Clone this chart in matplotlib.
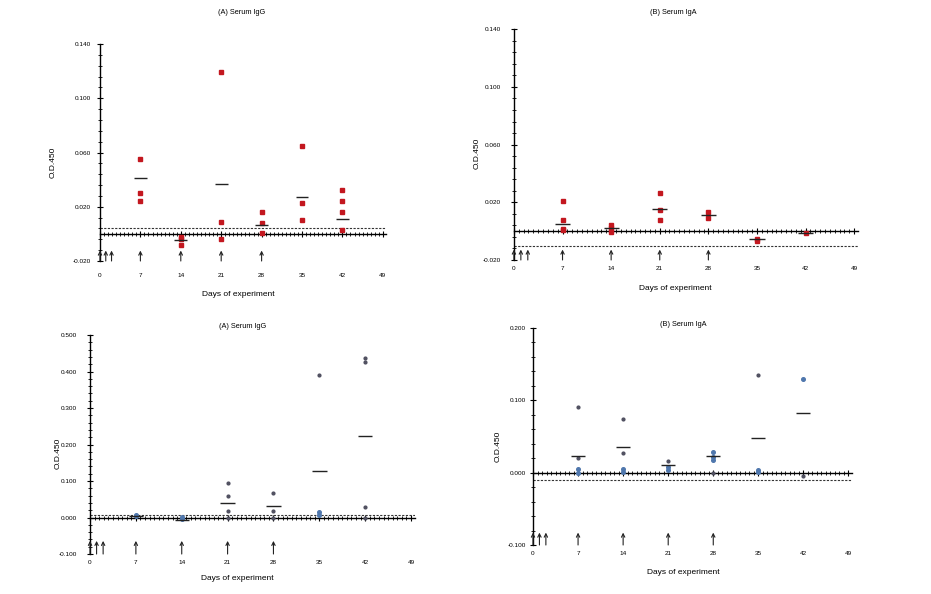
import numpy as np
import matplotlib
matplotlib.use('Agg')
import matplotlib.pyplot as plt
from matplotlib.ticker import MultipleLocator, AutoMinorLocator, FormatStrFormatter

plt.rcParams['font.family'] = ['Liberation Sans', 'DejaVu Sans']

# days the antigen was given (arrows)
dose_days = [0, 1, 2, 7, 14, 21, 28]
days = [7, 14, 21, 28, 35, 42]

# (A) serum IgG, top panel - red squares
igg_top_pts = {
    7: [0.055, 0.030, 0.024],
    14: [-0.002, -0.004, -0.008],
    21: [0.119, 0.009, -0.004],
    28: [0.016, 0.008, 0.001],
    35: [0.065, 0.023, 0.010],
    42: [0.032, 0.024, 0.016, 0.003],
}
igg_top_mean = [0.041, -0.0045, 0.037, 0.0064, 0.027, 0.0113]
igg_top_cutoff = 0.0044

# (B) serum IgA, top panel
iga_top_pts = {
    7: [0.021, 0.0075, 0.0017, 0.0008],
    14: [0.0045, 0.0024, -0.0008],
    21: [0.0265, 0.015, 0.008],
    28: [0.013, 0.009],
    35: [-0.0052, -0.0066],
    42: [-0.0015],
}
iga_top_mean = [0.0047, 0.0024, 0.0156, 0.0114, -0.0057, -0.0015]
iga_top_cutoff = -0.0103

# (A) serum IgG, bottom panel - grey and blue dots
igg_bot_grey = {
    21: [0.095, 0.060, 0.018, 0.0],
    28: [0.067, 0.018, 0.0],
    35: [0.390],
    42: [0.436, 0.426, 0.030, 0.0],
}
igg_bot_blue = {
    7: [0.0075, 0.003],
    14: [0.001, -0.003],
    35: [0.015, 0.0076],
}
igg_bot_mean = [0.003, -0.007, 0.040, 0.032, 0.128, 0.224]
igg_bot_cutoff = 0.008

# (B) serum IgA, bottom panel
iga_bot_grey = {
    7: [0.091, 0.020],
    14: [0.074, 0.027],
    21: [0.016],
    28: [-0.001],
    35: [0.135],
    42: [-0.005],
}
iga_bot_blue = {
    7: [0.005, -0.001],
    14: [0.0057, 0.001],
    21: [0.0085, 0.004],
    28: [0.028, 0.022, 0.018],
    35: [0.004, 0.001],
    42: [0.130],
}
iga_bot_mean = [0.023, 0.036, 0.011, 0.023, 0.048, 0.083]
iga_bot_cutoff = -0.010

RED = '#c3171f'
GREY = '#505060'
BLUE = '#4f77ad'


def scatter_groups(ax, groups, **kw):
    for d, vals in groups.items():
        ax.plot([d] * len(vals), vals, ls='none', **kw)


def setup(ax, ylim, ystep, cutoff, mean, arrow_frac, ypad, xpad):
    ax.set_xlim(0, 49.6)
    ax.set_ylim(*ylim)
    for s in ['top', 'right', 'bottom']:
        ax.spines[s].set_visible(False)
    ax.spines['left'].set_linewidth(1.0)
    ax.set_yticks(np.arange(ylim[0], ylim[1] + ystep / 2, ystep))
    ax.yaxis.set_minor_locator(AutoMinorLocator(5))
    ax.yaxis.set_major_formatter(FormatStrFormatter('%.3f'))
    ax.tick_params(axis='y', which='major', direction='inout', length=4, labelsize=4.6, pad=ypad)
    ax.tick_params(axis='y', which='minor', direction='inout', length=2.5)
    ax.set_xticks(range(0, 50, 7))
    ax.tick_params(axis='x', which='both', length=0, labelsize=4.6, pad=xpad)

    # x axis drawn at zero
    sec = ax.secondary_xaxis(0, transform=ax.transData)
    sec.set_xticks(range(0, 50, 7))
    sec.xaxis.set_minor_locator(MultipleLocator(0.7))
    sec.tick_params(which='major', direction='inout', length=4, labelbottom=False)
    sec.tick_params(which='minor', direction='inout', length=2.5)
    sec.spines['bottom'].set_linewidth(1.0)

    ax.axhline(cutoff, color='#333333', lw=0.8, ls=(0, (2, 1.3)))
    ax.hlines(mean, np.array(days) - 1.1, np.array(days) + 1.1, color='#222222', lw=1.0, zorder=4)

    for d in dose_days:
        ax.annotate('', xy=(d, arrow_frac), xycoords=('data', 'axes fraction'),
                    xytext=(d, 0.0), textcoords=('data', 'axes fraction'),
                    arrowprops=dict(arrowstyle='->', lw=0.8, color='#222222',
                                    shrinkA=0, shrinkB=0, mutation_scale=6))


fig = plt.figure(figsize=(9.31, 5.94), dpi=100)

ax1 = fig.add_axes([0.1074, 0.5606, 0.3075, 0.3653])
ax2 = fig.add_axes([0.552, 0.5623, 0.3700, 0.3884])
ax3 = fig.add_axes([0.0967, 0.0673, 0.3490, 0.3687])
ax4 = fig.add_axes([0.5725, 0.0825, 0.3430, 0.3653])

setup(ax1, (-0.020, 0.140), 0.040, igg_top_cutoff, igg_top_mean, 0.048, 4.5, 8.5)
scatter_groups(ax1, igg_top_pts, marker='s', ms=3.3, color=RED, zorder=3)

setup(ax2, (-0.020, 0.140), 0.040, iga_top_cutoff, iga_top_mean, 0.045, 7.5, 4)
scatter_groups(ax2, iga_top_pts, marker='s', ms=3.3, color=RED, zorder=3)

setup(ax3, (-0.100, 0.500), 0.100, igg_bot_cutoff, igg_bot_mean, 0.06, 7.5, 4)
scatter_groups(ax3, igg_bot_grey, marker='o', ms=2.0, color=GREY, zorder=3)
scatter_groups(ax3, igg_bot_blue, marker='o', ms=2.6, color=BLUE, zorder=3)

setup(ax4, (-0.100, 0.200), 0.100, iga_bot_cutoff, iga_bot_mean, 0.057, 3, 4)
scatter_groups(ax4, iga_bot_grey, marker='o', ms=2.0, color=GREY, zorder=3)
scatter_groups(ax4, iga_bot_blue, marker='o', ms=2.6, color=BLUE, zorder=3)

W, H = 931.0, 594.0
titles = [('(A) Serum IgG', 242, 12), ('(B) Serum IgA', 673, 13),
          ('(A) Serum IgG', 243, 326), ('(B) Serum IgA', 683, 325)]
for t, x, y in titles:
    fig.text(x / W, 1 - y / H, t, ha='center', va='center', fontsize=5.3)

xlabels = [(238, 295), (675, 288), (237, 578), (683, 572)]
for x, y in xlabels:
    fig.text(x / W, 1 - y / H, 'Days of experiment', ha='center', va='center', fontsize=6)

ylabels = [(53, 162), (477, 153), (58, 453), (498, 446)]
for x, y in ylabels:
    fig.text(x / W, 1 - y / H, 'O.D.450', ha='center', va='center', fontsize=6, rotation=90)

fig.savefig('out.png', dpi=100)
